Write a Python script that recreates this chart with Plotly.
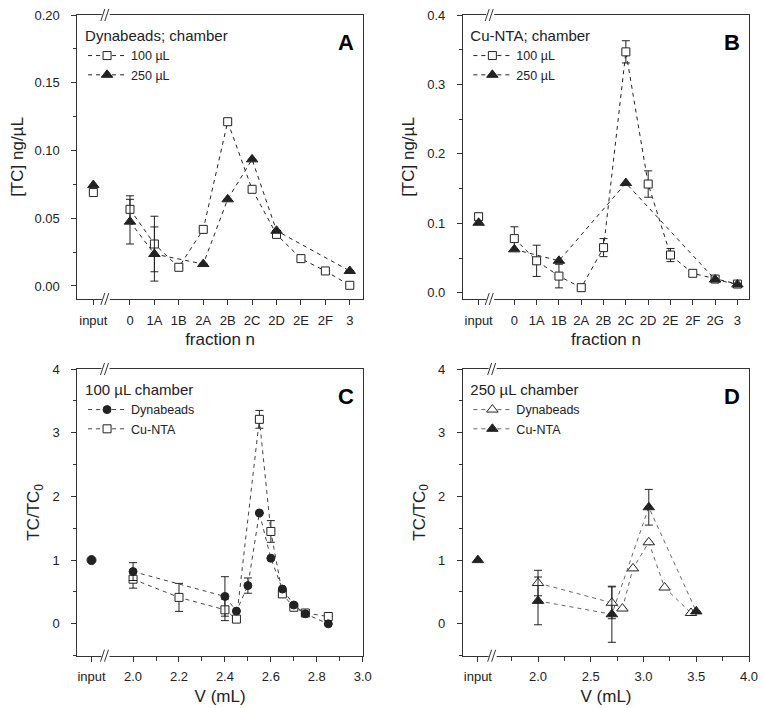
import plotly.graph_objects as go

# --- data ---

# A : Dynabeads, [TC] ng/uL per fraction
frac_a = ["0", "1A", "1B", "2A", "2B", "2C", "2D", "2E", "2F", "3"]
a_input_100 = 0.069
a_input_250 = 0.0745
a_100 = [0.0566, 0.031, 0.0138, 0.0418, 0.1213, 0.0714, 0.0381, 0.0202, 0.0111, 0.0005]
a_100_err = [0.010, 0.0205, None, None, None, None, None, None, None, None]
a_250 = [0.0475, 0.0236, None, 0.0162, 0.064, 0.0935, 0.0408, None, None, 0.0111]
a_250_err = [0.0165, 0.020, None, None, None, None, None, None, None, None]

# B : Cu-NTA, [TC] ng/uL per fraction
frac_b = ["0", "1A", "1B", "2A", "2B", "2C", "2D", "2E", "2F", "2G", "3"]
b_input_100 = 0.1095
b_input_100_err = 0.005
b_input_250 = 0.1008
b_100 = [0.078, 0.046, 0.024, 0.0073, 0.065, 0.347, 0.1566, 0.0543, 0.028, 0.0197, 0.0125]
b_100_err = [0.017, 0.0225, 0.017, 0.003, 0.013, 0.016, 0.019, 0.0095, 0.004, 0.004, 0.003]
b_250 = [0.0625, None, 0.046, None, None, 0.158, None, None, None, 0.019, 0.012]

# C : 100 uL chamber, TC/TC0 vs V (mL)
c_input = 1.0
c_v_dyna = [2.0, 2.4, 2.45, 2.5, 2.55, 2.6, 2.65, 2.7, 2.75, 2.85]
c_dyna = [0.82, 0.43, 0.20, 0.60, 1.74, 1.03, 0.546, 0.295, 0.157, 0.0]
c_dyna_err = [0.14, 0.31, None, 0.12, None, None, None, None, None, None]
c_v_cunta = [2.0, 2.2, 2.4, 2.45, 2.55, 2.6, 2.65, 2.7, 2.75, 2.85]
c_cunta = [0.70, 0.415, 0.22, 0.074, 3.21, 1.45, 0.47, 0.26, 0.17, 0.115]
c_cunta_err = [0.14, 0.22, 0.17, None, 0.14, 0.17, None, None, None, None]

# D : 250 uL chamber, TC/TC0 vs V (mL)
d_input = 1.0
d_v_dyna = [2.0, 2.7, 2.8, 2.9, 3.05, 3.2, 3.45]
d_dyna = [0.64, 0.33, 0.24, 0.87, 1.28, 0.57, 0.17]
d_dyna_err = [0.20, 0.25, None, None, None, None, None]
d_v_cunta = [2.0, 2.7, 3.05, 3.5]
d_cunta = [0.36, 0.15, 1.83, 0.195]
d_cunta_err = [0.375, 0.44, 0.28, None]

c_ticks = [2.0, 2.2, 2.4, 2.6, 2.8, 3.0]
d_ticks = [2.0, 2.5, 3.0, 3.5, 4.0]


FONT = "Liberation Sans, Arial, sans-serif"
INK = "#222"

fig = go.Figure()


def err(vals):
    return dict(type="data", array=vals, visible=True, color=INK, thickness=1, width=4)


def add_series(x, y, xa, ya, symbol, filled, legend, name, line_color, e=None,
               rank=None, size=8):
    marker = dict(symbol=symbol, size=size,
                  color=INK if filled else "white",
                  line=dict(color=INK, width=1))
    fig.add_trace(go.Scatter(
        x=x, y=y, xaxis=xa, yaxis=ya, mode="lines+markers",
        name=name, legend=legend, connectgaps=True,
        line=dict(color=line_color, width=1, dash="4px,4px"),
        marker=marker, error_y=err(e) if e else None,
        legendrank=rank if rank else 1000,
    ))


def add_input(x, y, xa, ya, symbol, filled, e=None, size=8):
    fig.add_trace(go.Scatter(
        x=[x], y=[y], xaxis=xa, yaxis=ya, mode="markers", showlegend=False,
        marker=dict(symbol=symbol, size=size, color=INK if filled else "white",
                    line=dict(color=INK, width=1)),
        error_y=err([e]) if e else None,
    ))


# positions of the categories on panel A and B (input sits left of the break)
xa_pos = list(range(len(frac_a)))
xb_pos = list(range(len(frac_b)))
a_in_x = -1.5
b_in_x = -1.6

# A
add_input(a_in_x, a_input_100, "x", "y", "square", False)
add_input(a_in_x, a_input_250, "x", "y", "triangle-up", True, size=10)
add_series(xa_pos, a_100, "x", "y", "square", False, "legend", "100 \u00b5L", INK, a_100_err)
add_series(xa_pos, a_250, "x", "y", "triangle-up", True, "legend", "250 \u00b5L", INK, a_250_err, size=10)

# B
add_input(b_in_x, b_input_100, "x2", "y2", "square", False, b_input_100_err)
add_input(b_in_x, b_input_250, "x2", "y2", "triangle-up", True, size=10)
add_series(xb_pos, b_100, "x2", "y2", "square", False, "legend2", "100 \u00b5L", INK, b_100_err)
add_series(xb_pos, b_250, "x2", "y2", "triangle-up", True, "legend2", "250 \u00b5L", INK, size=10)

# C (squares under the circles, but circles first in the legend)
c_in_x = 1.819
add_input(c_in_x, c_input, "x3", "y3", "circle", True, size=9)
add_series(c_v_cunta, c_cunta, "x3", "y3", "square", False, "legend3", "Cu-NTA", "#444", c_cunta_err, rank=2)
add_series(c_v_dyna, c_dyna, "x3", "y3", "circle", True, "legend3", "Dynabeads", "#444", c_dyna_err, rank=1)

# D
d_in_x = 1.43
add_input(d_in_x, d_input, "x4", "y4", "triangle-up", True, size=10)
add_series(d_v_dyna, d_dyna, "x4", "y4", "triangle-up", False, "legend4", "Dynabeads", "#666", d_dyna_err, size=10)
add_series(d_v_cunta, d_cunta, "x4", "y4", "triangle-up", True, "legend4", "Cu-NTA", "#666", d_cunta_err, size=10)


# --- axes ---
# the page body adds an 8px margin, so domains are shifted up/left by 8px
col_l = [0.0907, 0.4631]
col_r = [0.5940, 0.9674]
row_t = [0.5890, 0.9901]
row_b = [0.0852, 0.4901]

base = dict(showline=True, mirror=True, linecolor="#333", linewidth=1.2,
            ticks="outside", ticklen=5, tickcolor="#333", showgrid=False,
            zeroline=False, automargin=False, ticklabeloverflow="allow",
            tickfont=dict(size=13, color=INK, family=FONT),
            title_font=dict(size=17, color=INK, family=FONT))
bx = dict(base, ticklabelstandoff=4)
by = dict(base, ticklabelstandoff=9)
minor_y = lambda d: dict(dtick=d, ticks="outside", ticklen=3, tickcolor="#333")

fig.update_layout(
    xaxis=dict(bx, domain=col_l, anchor="y", range=[-2.15, 9.53],
               tickmode="array", tickvals=[a_in_x] + xa_pos, ticktext=["input"] + frac_a,
               title=dict(text="fraction n", standoff=6)),
    yaxis=dict(by, domain=row_t, anchor="x", range=[-0.0096, 0.2001],
               dtick=0.05, tickformat=".2f", minor=minor_y(0.025),
               title=dict(text="[TC] ng/\u00b5L", standoff=8)),
    xaxis2=dict(bx, domain=col_r, anchor="y2", range=[-2.3, 10.52],
                tickmode="array", tickvals=[b_in_x] + xb_pos, ticktext=["input"] + frac_b,
                title=dict(text="fraction n", standoff=6)),
    yaxis2=dict(by, domain=row_t, anchor="x2", range=[-0.009, 0.4001],
                dtick=0.1, tickformat=".1f", minor=minor_y(0.05),
                title=dict(text="[TC] ng/\u00b5L", standoff=8)),
    xaxis3=dict(bx, domain=col_l, anchor="y3", range=[1.758, 3.0],
                tickmode="array", tickvals=[c_in_x] + c_ticks,
                ticktext=["input"] + ["%.1f" % t for t in c_ticks],
                minor=dict(tickvals=[2.1, 2.3, 2.5, 2.7, 2.9], ticks="outside",
                           ticklen=4, tickcolor="#333"),
                title=dict(text="V (mL)", standoff=6)),
    yaxis3=dict(by, domain=row_b, anchor="x3", range=[-0.5, 4.0],
                dtick=1, minor=minor_y(0.5),
                title=dict(text="TC/TC<sub>0</sub>", standoff=8)),
    xaxis4=dict(bx, domain=col_r, anchor="y4", range=[1.289, 4.0],
                tickmode="array", tickvals=[d_in_x] + d_ticks,
                ticktext=["input"] + ["%.1f" % t for t in d_ticks],
                minor=dict(tickvals=[1.75, 2.25, 2.75, 3.25, 3.75], ticks="outside",
                           ticklen=4, tickcolor="#333"),
                title=dict(text="V (mL)", standoff=6)),
    yaxis4=dict(by, domain=row_b, anchor="x4", range=[-0.5, 4.0],
                dtick=1, minor=minor_y(0.5),
                title=dict(text="TC/TC<sub>0</sub>", standoff=8)),
)

# --- legends, one per panel ---
leg = dict(bgcolor="rgba(0,0,0,0)", xanchor="left", yanchor="top",
           font=dict(size=12.5, color=INK, family=FONT), itemwidth=38,
           tracegroupgap=0)
fig.update_layout(
    legend=dict(leg, x=0.098, y=0.981, title=dict(text="Dynabeads; chamber", side="top")),
    legend2=dict(leg, x=0.601, y=0.981, title=dict(text="Cu-NTA; chamber", side="top")),
    legend3=dict(leg, x=0.098, y=0.481, title=dict(text="100 \u00b5L chamber", side="top")),
    legend4=dict(leg, x=0.601, y=0.481, title=dict(text="250 \u00b5L chamber", side="top")),
)

# panel letters
for letter, xr, yr in [("A", "x", "y"), ("B", "x2", "y2"), ("C", "x3", "y3"), ("D", "x4", "y4")]:
    fig.add_annotation(text="<b>%s</b>" % letter, xref=xr + " domain", yref=yr + " domain",
                       x=0.975, y=0.955, xanchor="right", yanchor="top", showarrow=False,
                       font=dict(size=22, color="black", family=FONT))

# axis breaks "//" on the bottom and top axis lines
for xr, yr, xb in [("x", "y", -0.99), ("x2", "y2", -1.08), ("x3", "y3", 1.88), ("x4", "y4", 1.57)]:
    for ya in (0, 1):
        common = dict(type="line", xref=xr, yref=yr + " domain", xsizemode="pixel",
                      ysizemode="pixel", xanchor=xb, yanchor=ya, layer="above")
        fig.add_shape(common, x0=-4, x1=4, y0=0, y1=0, line=dict(color="white", width=4))
        fig.add_shape(common, x0=-5, x1=-1, y0=-6, y1=6, line=dict(color="#333", width=1))
        fig.add_shape(common, x0=-1, x1=3, y0=-6, y1=6, line=dict(color="#333", width=1))

fig.update_layout(
    width=766, height=708,
    margin=dict(l=0, r=0, t=0, b=0),
    paper_bgcolor="white", plot_bgcolor="white",
    font=dict(family=FONT, color=INK),
)

fig.write_html("out.html")
